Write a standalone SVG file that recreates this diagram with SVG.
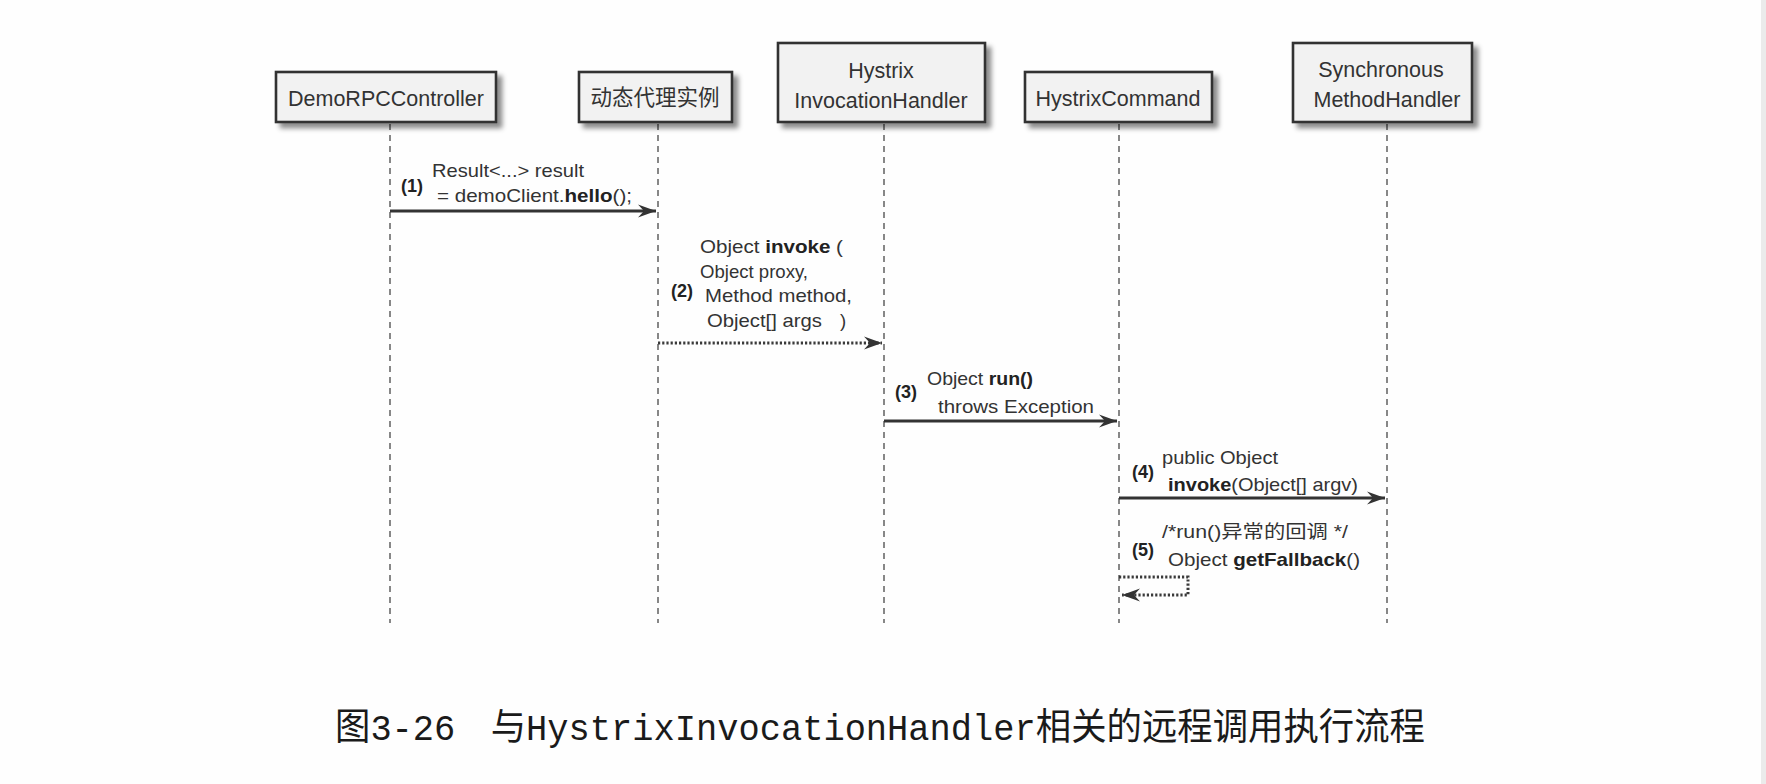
<svg xmlns="http://www.w3.org/2000/svg" width="1766" height="784" viewBox="0 0 1766 784">
<style>
.box{fill:#f2f2f2;stroke:#333;stroke-width:2.6;filter:url(#sh)}
.bl{font-family:"Liberation Sans","Noto Sans CJK SC",sans-serif;font-size:21.5px;fill:#333;text-anchor:middle}
.life{stroke:#555;stroke-width:1.4;stroke-dasharray:6,5;fill:none}
.msg{stroke:#333;stroke-width:2.9;fill:none}
.dot{stroke:#3a3a3a;stroke-width:3;stroke-dasharray:2.2,2;fill:none}
.t{font-family:"Liberation Sans","Noto Sans CJK SC",sans-serif;font-size:18.5px;fill:#333}
.n{font-family:"Liberation Sans",sans-serif;font-size:18px;font-weight:bold;fill:#222}
.b{font-weight:bold;fill:#222}
.cap{font-family:"Liberation Mono","Noto Sans CJK SC",monospace;font-size:37px;fill:#1a1a1a}
</style>
<defs>
<filter id="sh" x="-10%" y="-20%" width="130%" height="150%">
<feDropShadow dx="5" dy="5" stdDeviation="2.5" flood-color="#000" flood-opacity="0.45"/>
</filter>
<marker id="ah" markerUnits="userSpaceOnUse" markerWidth="20" markerHeight="15" refX="18" refY="7" orient="auto">
<path d="M0,0.5 L18,7 L0,13.5 L6,7 Z" fill="#333"/>
</marker>
</defs>
<rect x="0" y="0" width="1766" height="784" fill="#fefefe"/>
<rect x="1761" y="0" width="5" height="784" fill="#ebebeb"/>

<g id="connectors">
<line class="life" x1="390" y1="124" x2="390" y2="623"/>
<line class="life" x1="658" y1="124" x2="658" y2="623"/>
<line class="life" x1="884" y1="124" x2="884" y2="623"/>
<line class="life" x1="1119" y1="124" x2="1119" y2="623"/>
<line class="life" x1="1387" y1="124" x2="1387" y2="623"/>
<line class="msg" x1="390" y1="211" x2="656" y2="211" marker-end="url(#ah)"/>
<line class="dot" x1="658" y1="343" x2="882" y2="343" marker-end="url(#ah)"/>
<line class="msg" x1="884" y1="421" x2="1117" y2="421" marker-end="url(#ah)"/>
<line class="msg" x1="1119" y1="498" x2="1385" y2="498" marker-end="url(#ah)"/>
<polyline class="dot" points="1119,577 1188,577 1188,595 1122,595" marker-end="url(#ah)"/>
</g>

<g id="labels">
<text class="n" x="401" y="192">(1)</text>
<text class="t" x="432" y="177" textLength="152" lengthAdjust="spacingAndGlyphs">Result&lt;...&gt; result</text>
<text class="t" x="437" y="202" textLength="195" lengthAdjust="spacingAndGlyphs">= demoClient.<tspan class="b">hello</tspan>();</text>

<text class="n" x="671" y="297">(2)</text>
<text class="t" x="700" y="253" textLength="143" lengthAdjust="spacingAndGlyphs">Object <tspan class="b">invoke</tspan> (</text>
<text class="t" x="700" y="278" textLength="108" lengthAdjust="spacingAndGlyphs">Object proxy,</text>
<text class="t" x="705" y="302" textLength="147" lengthAdjust="spacingAndGlyphs">Method method,</text>
<text class="t" x="707" y="327" textLength="115" lengthAdjust="spacingAndGlyphs">Object[] args</text>
<text class="t" x="840" y="327">)</text>

<text class="n" x="895" y="398">(3)</text>
<text class="t" x="927" y="385" textLength="106" lengthAdjust="spacingAndGlyphs">Object <tspan class="b">run()</tspan></text>
<text class="t" x="938" y="413" textLength="156" lengthAdjust="spacingAndGlyphs">throws Exception</text>

<text class="n" x="1132" y="478">(4)</text>
<text class="t" x="1162" y="464" textLength="116" lengthAdjust="spacingAndGlyphs">public Object</text>
<text class="t" x="1168" y="491" textLength="190" lengthAdjust="spacingAndGlyphs"><tspan class="b">invoke</tspan>(Object[] argv)</text>

<text class="n" x="1132" y="556">(5)</text>
<text class="t" x="1162" y="538" textLength="186" lengthAdjust="spacingAndGlyphs">/*run()异常的回调 */</text>
<text class="t" x="1168" y="566" textLength="192" lengthAdjust="spacingAndGlyphs">Object <tspan class="b">getFallback</tspan>()</text>
</g>

<g id="n1">
<rect class="box" x="276" y="72" width="220" height="50"/>
<text class="bl" x="386" y="106">DemoRPCController</text>
</g>
<g id="n2">
<rect class="box" x="579" y="72" width="153" height="50"/>
<text class="bl" x="655" y="105">动态代理实例</text>
</g>
<g id="n3">
<rect class="box" x="778" y="43" width="207" height="79"/>
<text class="bl" x="881" y="78">Hystrix</text>
<text class="bl" x="881" y="108">InvocationHandler</text>
</g>
<g id="n4">
<rect class="box" x="1025" y="72" width="187" height="50"/>
<text class="bl" x="1118" y="106">HystrixCommand</text>
</g>
<g id="n5">
<rect class="box" x="1293" y="43" width="179" height="79"/>
<text class="bl" x="1381" y="77">Synchronous</text>
<text class="bl" x="1387" y="107">MethodHandler</text>
</g>

<text class="cap" x="335" y="740" textLength="1090" lengthAdjust="spacingAndGlyphs">图3-26　与HystrixInvocationHandler相关的远程调用执行流程</text>
</svg>
